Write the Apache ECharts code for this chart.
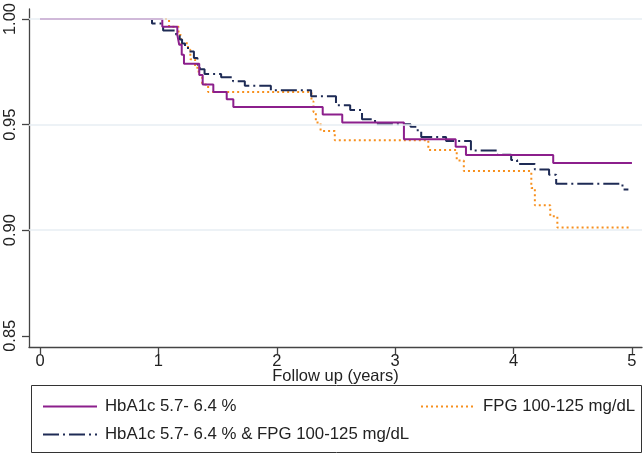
<!DOCTYPE html>
<html>
<head>
<meta charset="utf-8">
<script src="https://cdn.jsdelivr.net/npm/echarts@6/dist/echarts.min.js"></script>
<style>html,body{margin:0;padding:0;background:#fff}#c{width:644px;height:461px}</style>
</head>
<body>
<div id="c"></div>
<script>
// Kaplan-Meier style step curves (time in years, survival proportion)
var hbaTime = [0, 1.033, 1.16, 1.176, 1.197, 1.216, 1.345, 1.374, 1.464, 1.577, 1.633, 2.388, 2.553, 3.074, 3.511, 3.598, 4.335, 5.0];
var hbaSurv = [1.0, 0.9964, 0.9925, 0.9878, 0.9831, 0.9788, 0.9735, 0.969, 0.9655, 0.962, 0.9583, 0.9548, 0.951, 0.9431, 0.9395, 0.9356, 0.9318, 0.9318];

var fpgTime = [0, 1.09, 1.17, 1.19, 1.25, 1.27, 1.31, 1.34, 1.37, 1.42, 2.293, 2.31, 2.33, 2.37, 2.49, 3.28, 3.52, 3.58, 4.15, 4.18, 4.31, 4.37, 4.98];
var fpgSurv = [1.0, 0.9964, 0.9925, 0.9885, 0.9855, 0.981, 0.977, 0.9735, 0.969, 0.9655, 0.961, 0.956, 0.951, 0.947, 0.9426, 0.938, 0.933, 0.928, 0.92, 0.9118, 0.9066, 0.9013, 0.9013];

var bothTime = [0, 0.946, 1.04, 1.15, 1.18, 1.20, 1.225, 1.25, 1.30, 1.33, 1.35, 1.39, 1.53, 1.63, 1.73, 1.95, 2.29, 2.50, 2.62, 2.72, 2.83, 3.13, 3.18, 3.22, 3.43, 3.64, 3.86, 3.98, 4.03, 4.18, 4.30, 4.36, 4.92, 4.97];
var bothSurv = [1.0, 0.9979, 0.9946, 0.9926, 0.9903, 0.9884, 0.987, 0.9846, 0.9815, 0.9784, 0.9762, 0.974, 0.9724, 0.9705, 0.9684, 0.9663, 0.9635, 0.9592, 0.9569, 0.9525, 0.9502, 0.949, 0.9473, 0.9442, 0.9423, 0.9378, 0.9357, 0.9332, 0.9314, 0.9287, 0.9263, 0.922, 0.9193, 0.9193];

var xTicks = [0, 1, 2, 3, 4, 5];
var yTicks = [0.85, 0.90, 0.95, 1.00];
var gridValues = [0.90, 0.95, 1.00];

var nameHba = 'HbA1c 5.7- 6.4 %';
var nameFpg = 'FPG 100-125 mg/dL';
var nameBoth = 'HbA1c 5.7- 6.4 % & FPG 100-125 mg/dL';

function pairs(t, s) { return t.map(function (v, i) { return [v, s[i]]; }); }

var FONT = 'Liberation Sans, Arial, Helvetica, sans-serif';
var chart = echarts.init(document.getElementById('c'), null, { renderer: 'canvas' });

var legendCommon = {
  orient: 'horizontal', itemWidth: 54, itemHeight: 12, itemGap: 8,
  itemStyle: { opacity: 0 },
  textStyle: { fontSize: 16.8, fontFamily: FONT, color: '#222', padding: [0, 0, 0, 3] },
  selectedMode: false, padding: 0
};

chart.setOption({
  animation: false,
  backgroundColor: '#fff',
  grid: { left: 29, right: 2, top: 7, bottom: 114, containLabel: false },
  xAxis: {
    type: 'value', min: -0.093, max: 5.085,
    name: 'Follow up (years)', nameLocation: 'middle', nameGap: 21, nameMoveOverlap: false,
    nameTextStyle: { fontSize: 16.5, fontFamily: FONT, color: '#222' },
    axisLine: { show: true, onZero: false, lineStyle: { color: '#444', width: 1.3 } },
    axisTick: { show: true, length: 7, customValues: xTicks, lineStyle: { color: '#444', width: 1.3 } },
    axisLabel: { customValues: xTicks, margin: 6, fontSize: 16.5, fontFamily: FONT, color: '#222' },
    splitLine: { show: false }
  },
  yAxis: {
    type: 'value', min: 0.8447, max: 1.0048,
    axisLine: { show: true, onZero: false, lineStyle: { color: '#444', width: 1.3 } },
    axisTick: { show: true, length: 7, customValues: yTicks, lineStyle: { color: '#444', width: 1.3 } },
    axisLabel: { customValues: yTicks, rotate: 90, margin: 10, fontSize: 16.5, fontFamily: FONT, color: '#222',
      formatter: function (v) { return v.toFixed(2); } },
    splitLine: { show: false }
  },
  legend: [
    Object.assign({ data: [nameHba], left: 42, top: 398 }, legendCommon),
    Object.assign({ data: [nameFpg], left: 420, top: 398 }, legendCommon),
    Object.assign({ data: [nameBoth], left: 42, top: 426 }, legendCommon)
  ],
  graphic: [{
    type: 'rect', shape: { x: 31.5, y: 385.5, width: 610, height: 67 },
    style: { fill: 'none', stroke: '#333', lineWidth: 1 }, silent: true
  }],
  series: [
    {
      type: 'line', name: 'grid', data: [], z: 1, silent: true,
      markLine: {
        silent: true, symbol: ['none', 'none'], label: { show: false },
        lineStyle: { color: '#e7eef3', width: 1.5, type: 'solid' },
        emphasis: { disabled: true },
        data: gridValues.map(function (v) { return { yAxis: v }; })
      }
    },
    {
      type: 'line', name: nameHba, step: 'end', showSymbol: false, symbol: 'none', z: 4,
      data: pairs(hbaTime, hbaSurv),
      lineStyle: { color: '#8c1f8c', width: 2 }, itemStyle: { color: '#8c1f8c' }
    },
    {
      type: 'line', name: nameFpg, step: 'end', showSymbol: false, symbol: 'none', z: 3,
      data: pairs(fpgTime, fpgSurv),
      lineStyle: { color: '#f7901e', width: 2, type: [2, 3] }, itemStyle: { color: '#f7901e' }
    },
    {
      type: 'line', name: nameBoth, step: 'end', showSymbol: false, symbol: 'none', z: 3,
      data: pairs(bothTime, bothSurv),
      lineStyle: { color: '#1e2b55', width: 2, type: [16, 4, 2, 4] }, itemStyle: { color: '#1e2b55' }
    }
  ]
});
</script>
</body>
</html>
